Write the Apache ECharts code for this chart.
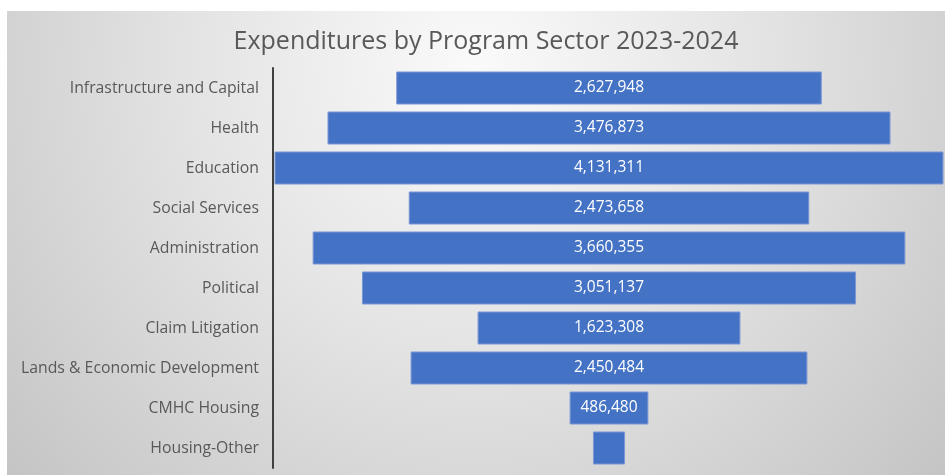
<!DOCTYPE html>
<html>
<head>
<meta charset="utf-8">
<script src="https://cdn.jsdelivr.net/npm/echarts@6/dist/echarts.min.js"></script>
<style>
  html, body { margin: 0; padding: 0; background: #ffffff; }
  #chart { width: 945px; height: 475px; }
</style>
</head>
<body>
<div id="chart"></div>
<script>
// Program sectors, top to bottom
const categories = [
  'Infrastructure and Capital',
  'Health',
  'Education',
  'Social Services',
  'Administration',
  'Political',
  'Claim Litigation',
  'Lands & Economic Development',
  'CMHC Housing',
  'Housing-Other'
];
// Expenditure per sector
const expenditures = [2627948, 3476873, 4131311, 2473658, 3660355, 3051137, 1623308, 2450484, 486480, 198000];
// Sectors whose value label is shown inside the bar
const showLabel = [true, true, true, true, true, true, true, true, true, false];

const axisMax = 4150000;
// Invisible offsets that centre each bar on the axis
const offsets = expenditures.map(v => (axisMax - v) / 2);

const chart = echarts.init(document.getElementById('chart'));
const FONT = '"Open Sans", sans-serif';

chart.setOption({
  animation: false,
  graphic: [{
    type: 'rect',
    left: 7, top: 11,
    shape: { width: 938, height: 464 },
    silent: true,
    z: -10,
    style: {
      fill: {
        type: 'radial', x: 0.5, y: 0.12, r: 1.35,
        colorStops: [
          { offset: 0, color: '#fafafa' },
          { offset: 0.45, color: '#e4e4e4' },
          { offset: 1, color: '#c4c4c4' }
        ]
      }
    }
  }],
  title: {
    text: 'Expenditures by Program Sector 2023-2024',
    left: 481, top: 24, textAlign: 'center',
    textStyle: { fontFamily: FONT, fontWeight: 'normal', fontSize: 25, color: '#595959' }
  },
  grid: { left: 273, right: 0, top: 68, bottom: 7, containLabel: false },
  xAxis: {
    type: 'value', min: 0, max: axisMax, show: false
  },
  yAxis: {
    type: 'category',
    inverse: true,
    data: categories,
    axisLine: { show: true, lineStyle: { color: '#404040', width: 2 } },
    axisTick: { show: false },
    axisLabel: { fontFamily: FONT, fontSize: 15.8, color: '#595959', margin: 14 }
  },
  series: [
    {
      type: 'bar', stack: 'f', data: offsets, silent: true,
      itemStyle: { color: 'transparent' }, barCategoryGap: '17.5%'
    },
    {
      type: 'bar', stack: 'f',
      data: expenditures.map((v, i) => ({
        value: v,
        label: { show: showLabel[i] }
      })),
      barCategoryGap: '17.5%',
      itemStyle: { color: '#4472C4', borderColor: '#7b97d4', borderWidth: 1 },
      label: {
        show: true, position: 'inside', color: '#ffffff',
        fontFamily: FONT, fontSize: 15.5,
        formatter: p => p.value.toLocaleString('en-US')
      }
    }
  ]
});
</script>
</body>
</html>
